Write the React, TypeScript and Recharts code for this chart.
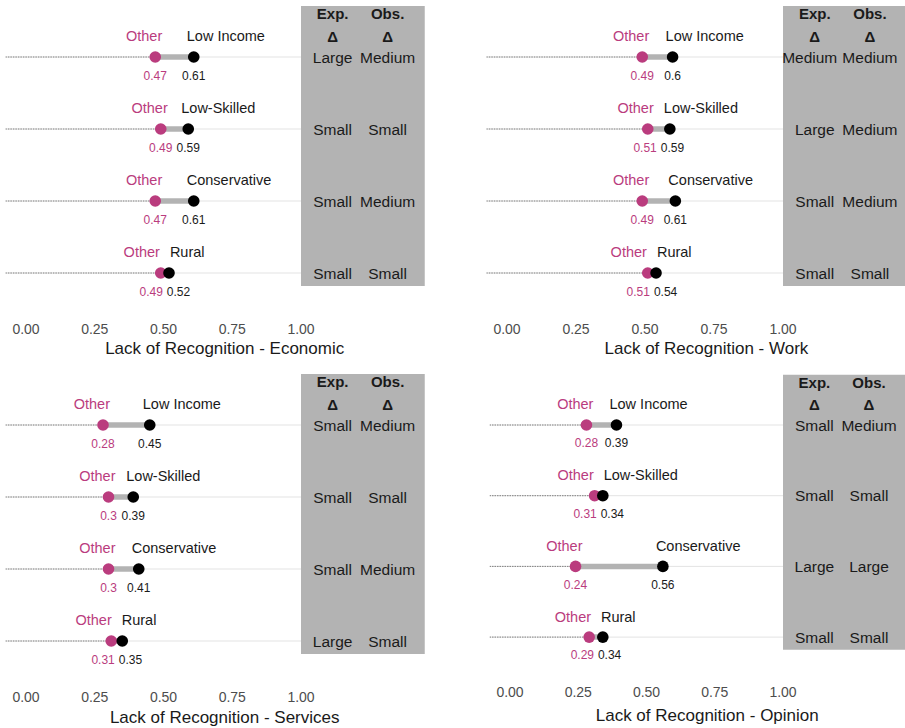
import React from "react";
import { ScatterChart, Scatter, XAxis, YAxis, ReferenceArea } from "recharts";

// rows, top to bottom
const groups = ["Low Income", "Low-Skilled", "Conservative", "Rural"];
const xTicks = [0, 0.25, 0.5, 0.75, 1];

const economicOther = [0.47, 0.49, 0.47, 0.49];
const economicGroup = [0.61, 0.59, 0.61, 0.52];
const economicExp = ["Large", "Small", "Small", "Small"];
const economicObs = ["Medium", "Small", "Medium", "Small"];

const workOther = [0.49, 0.51, 0.49, 0.51];
const workGroup = [0.6, 0.59, 0.61, 0.54];
const workExp = ["Medium", "Large", "Small", "Small"];
const workObs = ["Medium", "Medium", "Medium", "Small"];

const servicesOther = [0.28, 0.3, 0.3, 0.31];
const servicesGroup = [0.45, 0.39, 0.41, 0.35];
const servicesExp = ["Small", "Small", "Small", "Large"];
const servicesObs = ["Medium", "Small", "Medium", "Small"];

const opinionOther = [0.28, 0.31, 0.24, 0.29];
const opinionGroup = [0.39, 0.34, 0.56, 0.34];
const opinionExp = ["Small", "Small", "Large", "Small"];
const opinionObs = ["Medium", "Small", "Large", "Small"];

const PINK = "#BA3C7E";
const INK = "#1a1a1a";
const FONT = '"Liberation Sans", Arial, sans-serif';

const XMIN = -0.075;
const XMAX = 1.52;
const YMIN = 0.4;
const YMAX = 4.71;
const EXP_X = 1.115;
const OBS_X = 1.315;
const PPU = 275; // rough px per unit, only used to keep labels apart

const panels = [
  { title: "Lack of Recognition - Economic", other: economicOther, group: economicGroup, exp: economicExp, obs: economicObs,
    left: 0, top: 0, width: 452, height: 364, zeroX: 26, ppu: 275, row1Y: 57, step: 72, titleY: 348 },
  { title: "Lack of Recognition - Work", other: workOther, group: workGroup, exp: workExp, obs: workObs,
    left: 452, top: 0, width: 480, height: 364, zeroX: 507, ppu: 276, row1Y: 57, step: 72, titleY: 348 },
  { title: "Lack of Recognition - Services", other: servicesOther, group: servicesGroup, exp: servicesExp, obs: servicesObs,
    left: 0, top: 364, width: 452, height: 364, zeroX: 26, ppu: 275, row1Y: 425, step: 72, titleY: 717 },
  { title: "Lack of Recognition - Opinion", other: opinionOther, group: opinionGroup, exp: opinionExp, obs: opinionObs,
    left: 452, top: 364, width: 480, height: 364, zeroX: 510, ppu: 273, row1Y: 425, step: 70.7, titleY: 715 },
];

const empty = () => <g />;

const TextShape = (props: any) => {
  const { cx, cy, payload } = props;
  return (
    <text
      x={cx + (payload.dx || 0)}
      y={cy}
      textAnchor={payload.anchor || "middle"}
      dominantBaseline="central"
      fill={payload.fill}
      fontSize={payload.size}
      fontWeight={payload.weight || "normal"}
      fontFamily={FONT}
    >
      {payload.label}
    </text>
  );
};

const dot = (fill: string) => (props: any) => (
  <circle cx={props.cx} cy={props.cy} r={5.8} fill={fill} />
);

const valueWidth = (s: string) => (s.length - 1) * 6.67 + 3.34;

function Panel({ p }: { p: (typeof panels)[number] }) {
  const plotLeft = p.zeroX + XMIN * p.ppu;
  const plotRight = p.zeroX + XMAX * p.ppu;
  const plotTop = p.row1Y - (YMAX - 4) * p.step;
  const plotBottom = p.row1Y + (4 - YMIN) * p.step;
  const axisH = p.titleY + 6 - plotBottom;
  const margin = {
    left: plotLeft - p.left,
    right: p.left + p.width - plotRight,
    top: plotTop - p.top,
    bottom: p.top + p.height - plotBottom - axisH,
  };

  const rows = groups.map((g, i) => ({ name: g, y: 4 - i, other: p.other[i], group: p.group[i] }));

  const texts: any[] = [];
  rows.forEach((r, i) => {
    const sep = (r.group - r.other) * PPU;
    texts.push({ x: r.other, y: r.y + 0.29, label: "Other", anchor: "end", dx: Math.min(7, sep / 2 - 5), fill: PINK, size: 14.5 });
    texts.push({ x: r.group, y: r.y + 0.29, label: r.name, anchor: "start", dx: Math.max(-7, -sep / 2 + 5), fill: INK, size: 14.5 });
    const a = String(r.other);
    const b = String(r.group);
    const need = (valueWidth(a) + valueWidth(b)) / 2 + 4;
    const shift = sep < need ? (need - sep) / 2 : 0;
    texts.push({ x: r.other, y: r.y - 0.26, label: a, dx: -shift, fill: PINK, size: 12 });
    texts.push({ x: r.group, y: r.y - 0.26, label: b, dx: shift, fill: INK, size: 12 });
    // two wide words side by side: nudge the left one so they don't touch
    const crowded = p.exp[i] === "Medium" && p.obs[i] === "Medium";
    texts.push({ x: EXP_X, y: r.y, label: p.exp[i], dx: crowded ? -5 : 0, fill: INK, size: 15.5 });
    texts.push({ x: OBS_X, y: r.y, label: p.obs[i], fill: INK, size: 15.5 });
  });
  texts.push({ x: EXP_X, y: 4.6, label: "Exp.", fill: INK, size: 15, weight: "bold" });
  texts.push({ x: OBS_X, y: 4.6, label: "Obs.", fill: INK, size: 15, weight: "bold" });
  texts.push({ x: EXP_X, y: 4.29, label: "Δ", fill: INK, size: 15, weight: "bold" });
  texts.push({ x: OBS_X, y: 4.29, label: "Δ", fill: INK, size: 15, weight: "bold" });

  return (
    <div style={{ position: "absolute", left: p.left, top: p.top }}>
      <ScatterChart width={p.width} height={p.height} margin={margin}>
        <XAxis
          type="number"
          dataKey="x"
          domain={[XMIN, XMAX]}
          allowDataOverflow
          ticks={xTicks}
          interval={0}
          tickFormatter={(v: number) => v.toFixed(2)}
          axisLine={false}
          tickLine={false}
          height={axisH}
          tick={{ fill: "#4d4d4d", fontSize: 14, fontFamily: FONT }}
          label={{ value: p.title, position: "insideBottom", offset: 0, fill: INK, fontSize: 17, fontFamily: FONT }}
        />
        <YAxis type="number" dataKey="y" domain={[YMIN, YMAX]} allowDataOverflow hide />
        <ReferenceArea x1={1} x2={1.45} y1={0.82} y2={4.71} fill="#b3b3b3" fillOpacity={1} stroke="none" />
        {rows.map((r) => (
          <Scatter
            key={"track" + r.y}
            data={[{ x: XMIN, y: r.y }, { x: 1, y: r.y }]}
            line={{ stroke: "#e3e3e3", strokeWidth: 1 }}
            shape={empty}
            isAnimationActive={false}
          />
        ))}
        {rows.map((r) => (
          <Scatter
            key={"lead" + r.y}
            data={[{ x: XMIN, y: r.y }, { x: r.other, y: r.y }]}
            line={{ stroke: "#666666", strokeWidth: 0.8, strokeDasharray: "1.5 1" }}
            shape={empty}
            isAnimationActive={false}
          />
        ))}
        {rows.map((r) => (
          <Scatter
            key={"gap" + r.y}
            data={[{ x: r.other, y: r.y }, { x: r.group, y: r.y }]}
            line={{ stroke: "#b3b3b3", strokeWidth: 5.5 }}
            shape={empty}
            isAnimationActive={false}
          />
        ))}
        <Scatter data={rows.map((r) => ({ x: r.other, y: r.y }))} shape={dot(PINK)} isAnimationActive={false} />
        <Scatter data={rows.map((r) => ({ x: r.group, y: r.y }))} shape={dot("#000000")} isAnimationActive={false} />
        <Scatter data={texts} shape={TextShape} isAnimationActive={false} />
      </ScatterChart>
    </div>
  );
}

export default function App() {
  return (
    <div
      style={{
        position: "absolute",
        left: 0,
        top: 0,
        width: 905,
        height: 728,
        overflow: "hidden",
        background: "#ffffff",
        fontFamily: FONT,
      }}
    >
      {panels.map((p) => (
        <Panel key={p.title} p={p} />
      ))}
    </div>
  );
}
